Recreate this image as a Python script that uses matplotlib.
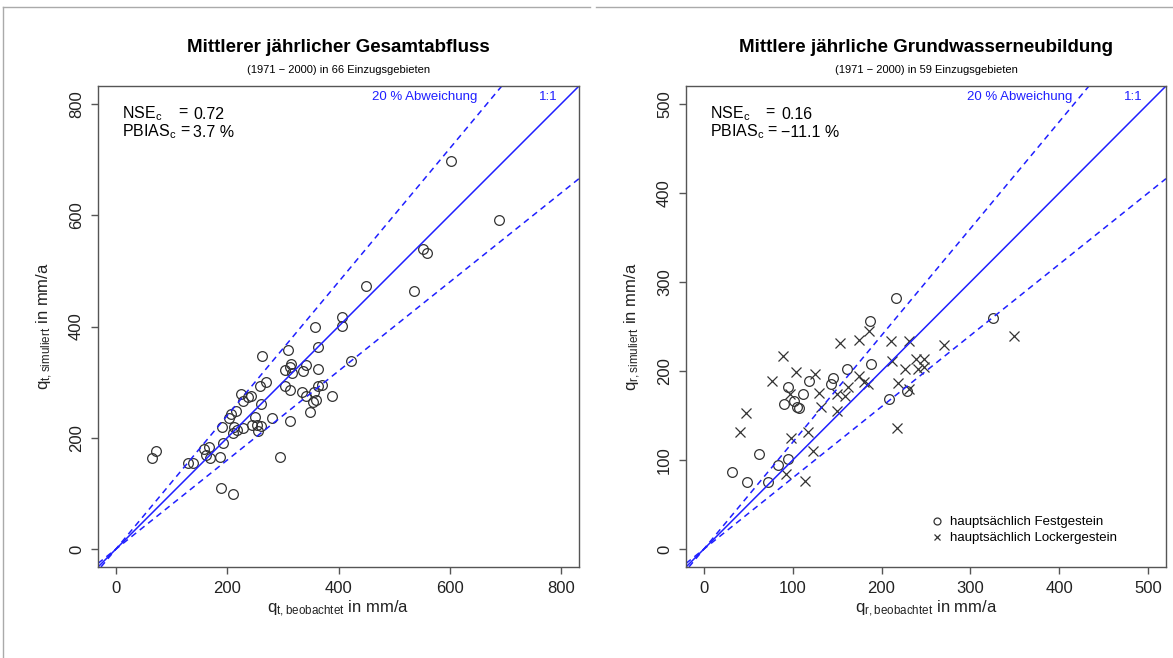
import matplotlib
matplotlib.use("Agg")
import matplotlib.pyplot as plt
from matplotlib.lines import Line2D
import numpy as np

plt.rcParams['font.family'] = ['Liberation Sans', 'DejaVu Sans']
plt.rcParams['mathtext.default'] = 'regular'

# --- Gesamtabfluss (66 Einzugsgebiete), mm/a
qt_beob = [406.7, 406.0, 358.6, 364.0, 422.2, 261.8, 308.6, 315.3, 313.0, 304.5,
           315.9, 335.7, 341.8, 363.4, 270.3, 258.2, 303.2, 312.3, 335.1, 355.5,
           363.4, 369.9, 388.6, 341.1, 360.4, 353.7, 348.3, 313.5, 225.2, 237.8,
           243.2, 228.8, 261.3, 215.0, 207.2, 203.6, 249.9, 280.5, 191.5, 211.4,
           216.8, 227.6, 210.3, 245.0, 254.1, 260.0, 255.3, 193.3, 168.1, 159.1,
           161.6, 169.9, 186.8, 129.7, 139.3, 72.6, 64.3, 294.2, 189.2, 210.3,
           601.3, 688.3, 551.4, 558.6, 535.7, 448.6]
qt_sim = [416.7, 401.6, 398.7, 363.3, 338.1, 347.1, 358.5, 332.7, 327.9, 321.9,
          316.0, 320.7, 330.4, 323.7, 300.9, 292.6, 293.2, 285.4, 282.4, 282.4,
          293.7, 294.4, 275.7, 275.7, 268.0, 264.9, 246.4, 229.7, 279.3, 273.9,
          275.2, 266.2, 260.8, 248.2, 242.8, 235.1, 236.9, 235.6, 220.0, 220.0,
          214.6, 217.1, 208.1, 223.6, 223.6, 221.2, 212.8, 191.2, 184.0, 180.4,
          168.5, 163.7, 164.9, 154.1, 155.2, 175.7, 163.7, 164.9, 109.7, 98.4,
          697.8, 591.7, 539.6, 532.4, 464.6, 473.0]

# --- Grundwasserneubildung (59 Einzugsgebiete), mm/a
fest_beob = [216.6, 325.1, 187.3, 188.1, 161.0, 145.6, 143.0, 117.9, 111.5, 94.9,
             101.0, 90.4, 105.1, 106.6, 208.7, 228.3, 62.3, 83.0, 94.3, 32.3,
             48.8, 72.4]
fest_sim = [281.7, 259.9, 256.5, 207.9, 202.2, 192.5, 185.4, 189.1, 174.5, 182.4,
            166.6, 162.9, 159.9, 158.1, 168.2, 177.9, 106.7, 94.7, 101.1, 86.2,
            74.9, 74.9]
locker_beob = [185.5, 153.2, 174.5, 210.9, 230.5, 269.9, 89.3, 211.7, 238.7, 248.1,
               226.7, 241.0, 247.4, 103.6, 124.7, 76.6, 174.2, 180.5, 184.3, 162.2,
               129.8, 149.8, 158.4, 218.8, 230.5, 96.8, 131.8, 149.4, 47.3, 40.9,
               117.5, 98.0, 217.3, 123.1, 92.0, 113.7, 349.1]
locker_sim = [244.9, 231.5, 234.5, 233.4, 234.0, 228.9, 216.9, 210.9, 213.1, 213.1,
              202.6, 202.6, 204.2, 198.9, 196.3, 189.1, 194.0, 188.0, 185.4, 182.4,
              174.9, 174.2, 171.9, 186.5, 179.8, 173.8, 159.9, 155.4, 152.5, 131.5,
              131.5, 125.1, 136.0, 109.8, 83.9, 76.7, 239.3]

W, H = 1173, 658
fig = plt.figure(figsize=(W / 100, H / 100), dpi=100)
fig.patch.set_facecolor('white')

ax1 = fig.add_axes([98 / W, 1 - 567 / H, 481 / W, 481 / H])
ax2 = fig.add_axes([686 / W, 1 - 567 / H, 480 / W, 481 / H])

mk = dict(linestyle='none', color='#333333', markersize=7, markeredgewidth=0.9)
ax1.plot(qt_beob, qt_sim, marker='o', markerfacecolor='none', **mk)
ax2.plot(fest_beob, fest_sim, marker='o', markerfacecolor='none', **mk,
         label='hauptsächlich Festgestein')
ax2.plot(locker_beob, locker_sim, marker='x', **mk,
         label='hauptsächlich Lockergestein')


def style(ax, lim, ticks, sub, title, subtitle, nse, pbias, x_abw, x_11):
    ax.set_xlim(lim)
    ax.set_ylim(lim)
    ax.set_xticks(ticks)
    ax.set_yticks(ticks)
    ax.axline((0, 0), slope=1.0, color='#1f1fff', lw=1.1)
    for s in (1.2, 0.8):
        ax.axline((0, 0), slope=s, color='#1f1fff', lw=1.1, dashes=(4, 3))
    for sp in ax.spines.values():
        sp.set_color('#555555')
        sp.set_linewidth(1.0)
    ax.tick_params(direction='out', length=5, width=1, color='#555555',
                   labelsize=12, labelcolor='#222222', pad=5)
    ax.tick_params(axis='y', labelrotation=90)
    for lab in ax.get_yticklabels():
        lab.set_va('center')
    ax.set_xlabel('$q_{%s,beobachtet}$ in mm/a' % sub, fontsize=12,
                  color='#222222', labelpad=2)
    ax.set_ylabel('$q_{%s,simuliert}$ in mm/a' % sub, fontsize=12,
                  color='#222222', labelpad=10)
    ax.text(0.5, 1.08, title, transform=ax.transAxes, ha='center',
            va='center', fontsize=13.5, fontweight='bold')
    ax.text(0.5, 1.034, subtitle, transform=ax.transAxes, ha='center',
            va='center', fontsize=8)
    ax.text(0.05, 0.942, 'NSE$_c$', transform=ax.transAxes, va='center', fontsize=11.5)
    ax.text(0.05, 0.905, 'PBIAS$_c$', transform=ax.transAxes, va='center', fontsize=11.5)
    ax.text(0.166, 0.946, '=', transform=ax.transAxes, va='center', fontsize=11.5)
    ax.text(0.17, 0.908, '=', transform=ax.transAxes, va='center', fontsize=11.5)
    ax.text(0.198, 0.94, nse, transform=ax.transAxes, va='center', fontsize=11.5)
    ax.text(0.198, 0.903, pbias, transform=ax.transAxes, va='center', fontsize=11.5)
    ax.text(x_abw, 0.978, '20 % Abweichung', transform=ax.transAxes,
            ha='center', va='center', fontsize=9.5, color='#1f1fff')
    ax.text(x_11, 0.978, '1:1', transform=ax.transAxes,
            ha='center', va='center', fontsize=9.5, color='#1f1fff')


style(ax1, (-32, 832), [0, 200, 400, 600, 800], 't',
      'Mittlerer jährlicher Gesamtabfluss',
      '(1971 − 2000) in 66 Einzugsgebieten', '0.72', '3.7 %', 0.68, 0.936)
style(ax2, (-20, 520), [0, 100, 200, 300, 400, 500], 'r',
      'Mittlere jährliche Grundwasserneubildung',
      '(1971 − 2000) in 59 Einzugsgebieten', '0.16', '−11.1 %', 0.696, 0.931)

leg = ax2.legend(loc='lower left', bbox_to_anchor=(0.5, 0.036), frameon=False,
                 fontsize=9.5, handlelength=0.8, handletextpad=0.6,
                 labelspacing=0.3, borderaxespad=0)
for h in leg.legend_handles:
    h.set_markersize(5)

# frame lines of the embedded picture
fig.add_artist(Line2D([3 / W, 590 / W], [1 - 7 / H, 1 - 7 / H], color='#aaaaaa', lw=1))
fig.add_artist(Line2D([596 / W, 1], [1 - 7 / H, 1 - 7 / H], color='#aaaaaa', lw=1))
fig.add_artist(Line2D([3 / W, 3 / W], [0, 1 - 7 / H], color='#aaaaaa', lw=1))

fig.savefig('out.png', dpi=100)
